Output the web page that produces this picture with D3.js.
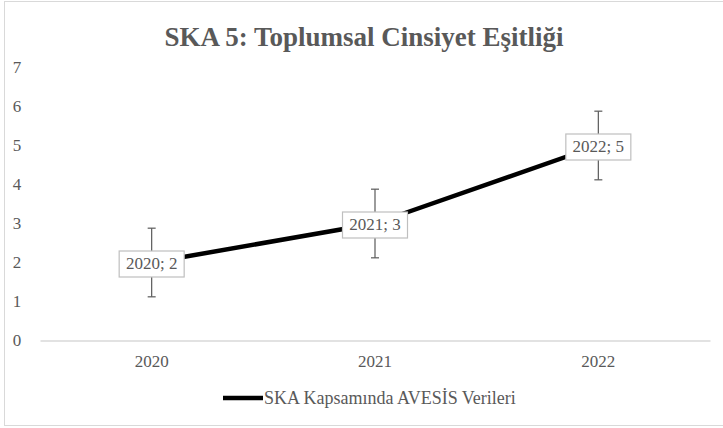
<!DOCTYPE html>
<html>
<head>
<meta charset="utf-8">
<script src="https://cdn.jsdelivr.net/npm/d3@7"></script>
<style>
  html, body { margin: 0; padding: 0; background: #fff; }
  svg { display: block; font-family: "Liberation Serif", "Times New Roman", serif; }
  svg text { font-family: "Liberation Serif", "Times New Roman", serif; }
</style>
</head>
<body>
<div id="chart"></div>
<script>
const title = "SKA 5: Toplumsal Cinsiyet Eşitliği";
const seriesName = "SKA Kapsamında AVESİS Verileri";
const years = ["2020", "2021", "2022"];
const values = [2, 3, 5];
const errors = [0.88, 0.88, 0.88];
const yTicks = [0, 1, 2, 3, 4, 5, 6, 7];

const width = 723, height = 428;
const textColor = "#595959";

const svg = d3.select("#chart")
  .append("svg")
  .attr("width", width)
  .attr("height", height);

// chart frame
svg.append("rect")
  .attr("x", 4.5).attr("y", 1.5)
  .attr("width", 730).attr("height", 424)
  .attr("fill", "#fff")
  .attr("stroke", "#d9d9d9")
  .attr("stroke-width", 1);

const x = d3.scaleBand()
  .domain(years)
  .range([40, 710]);

const y = d3.scaleLinear()
  .domain([0, 7])
  .range([340.5, 67.5]);

// title
svg.append("text")
  .attr("x", 364)
  .attr("y", 46)
  .attr("text-anchor", "middle")
  .attr("font-size", 27)
  .attr("font-weight", "bold")
  .attr("fill", textColor)
  .text(title);

// y axis labels (no line)
const yAxis = svg.append("g")
  .attr("transform", "translate(20,0)")
  .call(d3.axisLeft(y).tickValues(yTicks).tickSize(0).tickPadding(0).tickFormat(d3.format("d")));
yAxis.attr("font-family", null);
yAxis.select(".domain").remove();
yAxis.selectAll("text")
  .attr("text-anchor", "middle")
  .attr("x", -3)
  .attr("font-size", 17)
  .attr("fill", textColor);

// x axis
const xAxis = svg.append("g")
  .attr("transform", `translate(0,${y(0)})`)
  .call(d3.axisBottom(x).tickSize(0).tickPadding(14));
xAxis.attr("font-family", null);
xAxis.select(".domain")
  .attr("stroke", "#d9d9d9")
  .attr("stroke-width", 1.3);
xAxis.selectAll("text")
  .attr("font-size", 17)
  .attr("fill", textColor);

const cx = d => x(d) + x.bandwidth() / 2;

// line
const line = d3.line()
  .x((d, i) => cx(years[i]))
  .y(d => y(d));

svg.append("path")
  .datum(values)
  .attr("d", line)
  .attr("fill", "none")
  .attr("stroke", "#000")
  .attr("stroke-width", 4.5)
  .attr("stroke-linejoin", "round");

// error bars
const eb = svg.selectAll(".err")
  .data(values)
  .enter()
  .append("g")
  .attr("class", "err")
  .attr("stroke", "#595959")
  .attr("stroke-width", 1.2);

eb.append("line")
  .attr("x1", (d, i) => cx(years[i]))
  .attr("x2", (d, i) => cx(years[i]))
  .attr("y1", (d, i) => y(d + errors[i]))
  .attr("y2", (d, i) => y(d - errors[i]));
eb.append("line")
  .attr("x1", (d, i) => cx(years[i]) - 4)
  .attr("x2", (d, i) => cx(years[i]) + 4)
  .attr("y1", (d, i) => y(d + errors[i]))
  .attr("y2", (d, i) => y(d + errors[i]));
eb.append("line")
  .attr("x1", (d, i) => cx(years[i]) - 4)
  .attr("x2", (d, i) => cx(years[i]) + 4)
  .attr("y1", (d, i) => y(d - errors[i]))
  .attr("y2", (d, i) => y(d - errors[i]));

// data labels
const lbl = svg.selectAll(".lbl")
  .data(values)
  .enter()
  .append("g")
  .attr("class", "lbl")
  .attr("transform", (d, i) => `translate(${cx(years[i])},${y(d) + 1})`);

lbl.append("rect")
  .attr("x", -32.5).attr("y", -12.5)
  .attr("width", 65).attr("height", 26)
  .attr("fill", "#fff")
  .attr("stroke", "#bfbfbf")
  .attr("stroke-width", 1.2);

lbl.append("text")
  .attr("text-anchor", "middle")
  .attr("dy", "0.35em")
  .attr("font-size", 17)
  .attr("fill", textColor)
  .text((d, i) => `${years[i]}; ${d}`);

// legend
const legend = svg.append("g").attr("transform", "translate(223,398)");
legend.append("line")
  .attr("x1", 0).attr("x2", 40)
  .attr("stroke", "#000")
  .attr("stroke-width", 4.5);
legend.append("text")
  .attr("x", 41)
  .attr("dy", "0.35em")
  .attr("font-size", 18)
  .attr("fill", textColor)
  .text(seriesName);
</script>
</body>
</html>
